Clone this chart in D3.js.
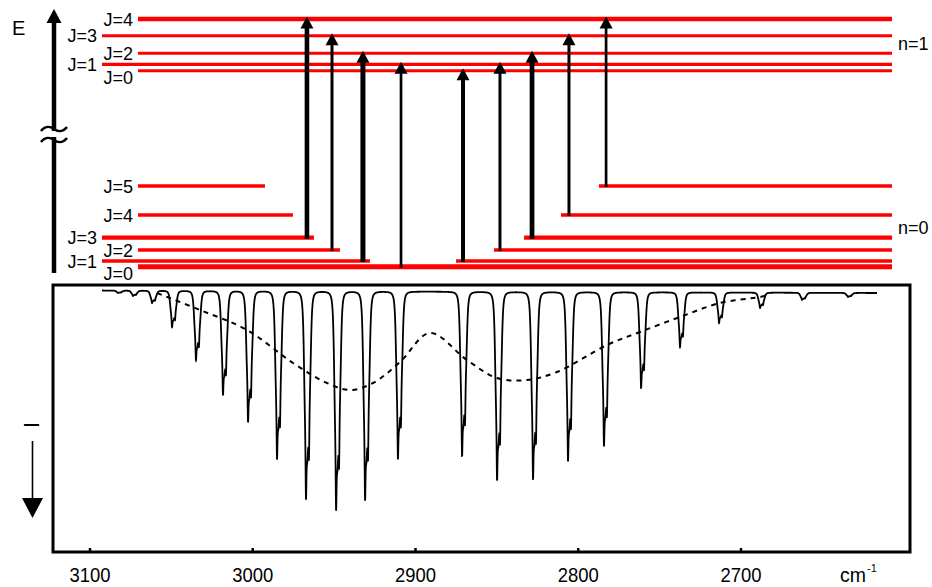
<!DOCTYPE html>
<html><head><meta charset="utf-8">
<script src="https://cdn.jsdelivr.net/npm/d3@7"></script>
<style>
body{margin:0;background:#fff}
svg{display:block}
text{font-family:Arial,"Liberation Sans",sans-serif;fill:#000}
</style>
</head><body><svg id="c" width="932" height="587"></svg>
<script>
// ---------------- data ----------------
const tickValues = [3100, 3000, 2900, 2800, 2700];
const tickLabels = ["3100", "3000", "2900", "2800", "2700"];
const axisUnit = "cm";
const axisUnitSup = "-1";

// absorption lines (H35Cl main line; H37Cl partner slightly lower)
const lineWavenumbers = [3082.8, 3073.6, 3061.9, 3049.6, 3034.9, 3018.3, 3002.9, 2985.1, 2967.3, 2948.8, 2931.0, 2910.8,
                         2871.4, 2849.9, 2827.8, 2806.3, 2784.2, 2761.4, 2737.5, 2713.5, 2688.3, 2662.5, 2634.3];
const lineDepths = [5, 8, 15, 39, 72, 107, 134, 171, 211, 222, 212, 171,
                    168, 192, 191, 173, 158, 100, 59, 35, 20, 12, 9];
const isotopeShift = 1.84;     // cm-1
const isotopeRatio = 0.75;
const broadWidth = 1.35;       // cm-1 (flat-topped core)
const narrowWidth = 0.37;      // cm-1 (sharp peak)
const broadShare = 0.55;
const baselineWavenumbers = [3092.6, 2616.4];
const baselineValues = [2.5, 5];

// dashed envelope
const envelopeWavenumbers = [3058.8, 3032.4, 3003.5, 2975.3, 2954.4, 2940.2, 2926.1, 2909.5, 2891.1,
                             2868.4, 2849.9, 2831.5, 2813.1, 2782.3, 2762.1, 2737.5, 2712.9, 2688.3, 2683.4];
const envelopeValues = [5, 22, 42, 75, 95, 102, 95, 74, 45, 72, 90, 92, 84, 57, 44, 29, 15, 9, 7];

// energy levels
const upperJ = [0, 1, 2, 3, 4];
const upperEnergy = [0, 6.4, 17.4, 35, 51.7];
const lowerJ = [0, 1, 2, 3, 4, 5];
const lowerEnergy = [0, 5.7, 16.7, 29, 51.7, 80.7];
const lowerLeftEnd = [null, 2927.96, 2946.4, 2962.4, 2975.3, 2992.5];
const lowerRightStart = [null, 2875.1, 2851.8, 2833.3, 2810.6, 2787.3];

// transitions
const transLowerJ = [3, 2, 1, 0, 1, 2, 3, 4, 5];
const transUpperJ = [4, 3, 2, 1, 0, 1, 2, 3, 4];
const transWavenumbers = [2966.7, 2951.3, 2932.3, 2908.9, 2870.8, 2848.1, 2828.4, 2805.7, 2782.9];
const transStrength = [4.6, 3, 5, 2.7, 4, 3, 4.7, 3, 2.7];

const levelLabels = {upper: "n=1", lower: "n=0"};

// ---------------- drawing ----------------
const svg = d3.select("#c");
const x = d3.scaleLinear().domain([3100, 2700]).range([90, 741]);
const ySpec = d3.scaleLinear().domain([0, 230]).range([288, 518]);
const eLower = d3.scaleLinear().domain([0, 80.7]).range([266.7, 186]);
const eUpper = d3.scaleLinear().domain([0, 51.7]).range([70.7, 19]);

const RED = "#ff0000";
const longLeft = 102, shortLeft = 138, levelRight = 892;
const isLong = j => j === 1 || j === 3;
const upperW = [3, 3.3, 3, 3, 4.5];
const lowerW = [5, 3.3, 3.3, 4.3, 3.3, 3.3];

// box frame
const box = {l: 53, r: 910, t: 285, b: 552};
svg.append("rect").attr("x", box.l).attr("y", box.t).attr("width", box.r - box.l).attr("height", box.b - box.t)
  .attr("fill", "none").attr("stroke", "#000").attr("stroke-width", 3);

// ticks
svg.append("g").selectAll("line").data(tickValues).join("line")
  .attr("x1", d => x(d)).attr("x2", d => x(d)).attr("y1", box.b).attr("y2", box.b - 4)
  .attr("stroke", "#000").attr("stroke-width", 2.5);
svg.append("g").selectAll("text").data(tickValues).join("text")
  .attr("x", d => x(d)).attr("y", 582).attr("text-anchor", "middle")
  .attr("font-size", 21).attr("textLength", 41).attr("lengthAdjust", "spacingAndGlyphs")
  .text((d, i) => tickLabels[i]);
svg.append("text").attr("x", 840).attr("y", 582).attr("font-size", 21)
  .attr("textLength", 26).attr("lengthAdjust", "spacingAndGlyphs").text(axisUnit);
svg.append("text").attr("x", 867).attr("y", 572).attr("font-size", 11).text(axisUnitSup);

// spectrum
const SL = (d, g) => { const u = d / g; return 1 / (1 + u * u * u * u); };
const L = (d, g) => { const u = d / g; return 1 / (1 + u * u); };
const prof = d => broadShare * SL(d, broadWidth) + (1 - broadShare) * L(d, narrowWidth);
const corr = 1 + isotopeRatio * prof(isotopeShift);
const baseAt = w => baselineValues[0] + (baselineValues[1] - baselineValues[0]) *
  (baselineWavenumbers[0] - w) / (baselineWavenumbers[0] - baselineWavenumbers[1]);
function depthAt(w) {
  let s = baseAt(w);
  for (let i = 0; i < lineWavenumbers.length; i++) {
    const D = (lineDepths[i] - baseAt(lineWavenumbers[i])) / corr;
    s += D * (prof(w - lineWavenumbers[i]) + isotopeRatio * prof(w - (lineWavenumbers[i] - isotopeShift)));
  }
  return s;
}
const samples = [];
for (let w = baselineWavenumbers[0]; w >= baselineWavenumbers[1]; w -= 0.025) samples.push(w);
lineWavenumbers.forEach(w => samples.push(w));
samples.sort((a, b) => b - a);
svg.append("path")
  .attr("d", d3.line().x(w => x(w)).y(w => ySpec(depthAt(w)))(samples))
  .attr("fill", "none").attr("stroke", "#000").attr("stroke-width", 1.8);

// envelope dashed
svg.append("path")
  .attr("d", d3.line().curve(d3.curveCatmullRom).x(d => x(d[0])).y(d => ySpec(d[1]))(
    envelopeWavenumbers.map((w, i) => [w, envelopeValues[i]])))
  .attr("fill", "none").attr("stroke", "#000").attr("stroke-width", 2).attr("stroke-dasharray", "5,5");

// energy levels: upper
upperJ.forEach((j, i) => {
  const y = eUpper(upperEnergy[i]);
  svg.append("line").attr("x1", isLong(j) ? longLeft : shortLeft).attr("x2", levelRight)
    .attr("y1", y).attr("y2", y).attr("stroke", RED).attr("stroke-width", upperW[i]);
  svg.append("text").attr("x", isLong(j) ? 97 : 133).attr("y", j === 0 ? y + 13 : y + 6.5)
    .attr("text-anchor", "end").attr("font-size", 18).text("J=" + j);
});
// lower
lowerJ.forEach((j, i) => {
  const y = eLower(lowerEnergy[i]);
  const x0 = isLong(j) ? longLeft : shortLeft;
  if (lowerLeftEnd[i] === null) {
    svg.append("line").attr("x1", x0).attr("x2", levelRight).attr("y1", y).attr("y2", y)
      .attr("stroke", RED).attr("stroke-width", lowerW[i]);
  } else {
    svg.append("line").attr("x1", x0).attr("x2", x(lowerLeftEnd[i])).attr("y1", y).attr("y2", y)
      .attr("stroke", RED).attr("stroke-width", lowerW[i]);
    svg.append("line").attr("x1", x(lowerRightStart[i])).attr("x2", levelRight).attr("y1", y).attr("y2", y)
      .attr("stroke", RED).attr("stroke-width", lowerW[i]);
  }
  svg.append("text").attr("x", isLong(j) ? 97 : 133).attr("y", j === 0 ? y + 13 : y + 6.5)
    .attr("text-anchor", "end").attr("font-size", 18).text("J=" + j);
});
svg.append("text").attr("x", 898).attr("y", 50).attr("font-size", 18).text(levelLabels.upper);
svg.append("text").attr("x", 898).attr("y", 234).attr("font-size", 18).text(levelLabels.lower);

// transitions
transWavenumbers.forEach((w, i) => {
  const xx = x(w);
  const yb = eLower(lowerEnergy[transLowerJ[i]]) + 1;
  const tip = eUpper(upperEnergy[transUpperJ[i]]) - 2.5;
  svg.append("line").attr("x1", xx).attr("x2", xx).attr("y1", yb).attr("y2", tip + 10)
    .attr("stroke", "#000").attr("stroke-width", transStrength[i]);
  svg.append("path").attr("d", `M${xx - 6.5},${tip + 12}L${xx + 6.5},${tip + 12}L${xx},${tip}Z`).attr("fill", "#000");
});

// energy axis
const ax = 54;
svg.append("line").attr("x1", ax).attr("x2", ax).attr("y1", 273).attr("y2", 20)
  .attr("stroke", "#000").attr("stroke-width", 4.5);
svg.append("path").attr("d", `M${ax - 7.5},23L${ax + 7.5},23L${ax},9Z`).attr("fill", "#000");
svg.append("rect").attr("x", ax - 4).attr("y", 131).attr("width", 8).attr("height", 6).attr("fill", "#fff");
[129, 140].forEach(yy => {
  svg.append("path").attr("d", `M41,${yy + 2}C45,${yy - 3} 50,${yy - 3} 54,${yy}S63,${yy + 3} 67,${yy - 2}`)
    .attr("fill", "none").attr("stroke", "#000").attr("stroke-width", 2.6);
});
svg.append("text").attr("x", 12).attr("y", 35).attr("font-size", 20).text("E");

// intensity arrow
svg.append("text").attr("transform", "translate(39,425) rotate(-90)").attr("text-anchor", "middle")
  .attr("font-size", 22).text("I");
svg.append("line").attr("x1", 32.5).attr("x2", 32.5).attr("y1", 441).attr("y2", 500)
  .attr("stroke", "#000").attr("stroke-width", 1.6);
svg.append("path").attr("d", "M22,498L43,498L32.5,518Z").attr("fill", "#000");
</script>
</body></html>
